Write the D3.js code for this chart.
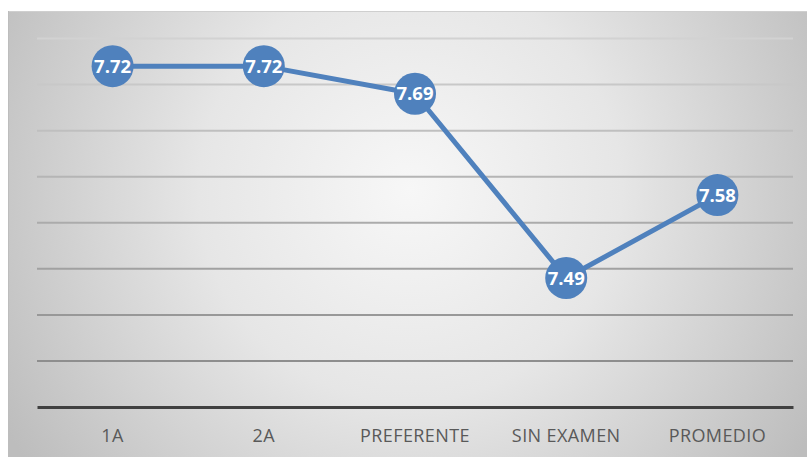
<!DOCTYPE html>
<html><head><meta charset="utf-8">
<script src="https://cdn.jsdelivr.net/npm/d3@7"></script>
<style>html,body{margin:0;padding:0;background:#fff;}svg{display:block;}</style>
</head><body>
<svg id="chart" width="807" height="457"></svg>
<script>
const categories = ["1A", "2A", "PREFERENTE", "SIN EXAMEN", "PROMEDIO"];
const values = [7.72, 7.72, 7.69, 7.49, 7.58];
const yTicks = [7.35, 7.40, 7.45, 7.50, 7.55, 7.60, 7.65, 7.70, 7.75];

const svg = d3.select("#chart");
const W = 807, H = 457;
const defs = svg.append("defs");
const rg = defs.append("radialGradient").attr("id", "bg")
  .attr("gradientUnits", "userSpaceOnUse")
  .attr("cx", 410).attr("cy", 190).attr("r", 470);
rg.append("stop").attr("offset", "0%").attr("stop-color", "#f7f7f7");
rg.append("stop").attr("offset", "45%").attr("stop-color", "#e6e6e6");
rg.append("stop").attr("offset", "100%").attr("stop-color", "#bdbdbd");

svg.append("rect").attr("x", 8).attr("y", 11).attr("width", W - 8).attr("height", H - 11)
  .attr("fill", "url(#bg)");
svg.append("line").attr("x1", 8).attr("x2", W).attr("y1", 11.5).attr("y2", 11.5)
  .attr("stroke", "#cfcfcf").attr("stroke-width", 1);
svg.append("line").attr("x1", 8.5).attr("x2", 8.5).attr("y1", 11).attr("y2", H)
  .attr("stroke", "#bdbdbd").attr("stroke-width", 1);

const x = d3.scaleBand().domain(categories).range([37, 793]);
const y = d3.scaleLinear().domain([7.35, 7.75]).range([407, 38.5]);
const gridColor = d3.scaleLinear().domain([7.75, 7.40]).range(["#d2d2d2", "#8e8e8e"]);

svg.append("g").selectAll("line").data(yTicks.filter(t => t > 7.36)).join("line")
  .attr("x1", 37).attr("x2", 793)
  .attr("y1", d => y(d)).attr("y2", d => y(d))
  .attr("stroke", d => gridColor(d)).attr("stroke-width", 2);

const xAxis = svg.append("g").attr("transform", `translate(0,${y(7.35)})`)
  .call(d3.axisBottom(x).tickSize(0).tickPadding(22));
xAxis.select(".domain").attr("stroke", "#404040").attr("stroke-width", 3);
xAxis.selectAll("text").attr("font-family", "'Open Sans', 'Liberation Sans', sans-serif")
  .attr("font-size", 18).attr("letter-spacing", 0.4).attr("fill", "#595959");

const cx = d => x(d) + x.bandwidth() / 2;
const line = d3.line().x((d, i) => cx(categories[i])).y(d => y(d));
svg.append("path").datum(values).attr("d", line)
  .attr("fill", "none").attr("stroke", "#4f81bd").attr("stroke-width", 5)
  .attr("stroke-linejoin", "round");

const pts = svg.append("g").selectAll("g").data(values).join("g")
  .attr("transform", (d, i) => `translate(${cx(categories[i])},${y(d)})`);
pts.append("circle").attr("r", 21).attr("fill", "#4f81bd");
pts.append("text").text(d => d.toFixed(2))
  .attr("text-anchor", "middle").attr("dy", "0.36em")
  .attr("font-family", "'Open Sans', 'Liberation Sans', sans-serif")
  .attr("font-weight", "bold").attr("font-size", 18.5).attr("fill", "#ffffff");
</script>
</body></html>
